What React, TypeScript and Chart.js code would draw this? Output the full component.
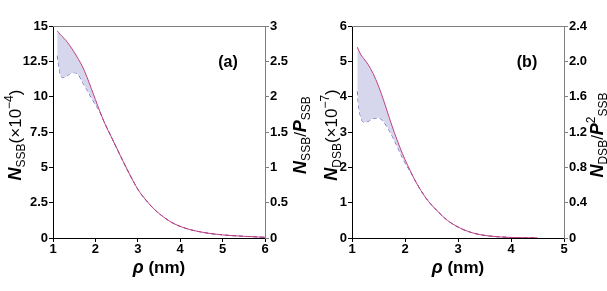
import React, { useEffect, useRef } from 'react';
import { Chart, registerables } from 'chart.js';
Chart.register(...registerables);

// Panel (a)
const xA = [1.1, 1.13, 1.17, 1.22, 1.3, 1.4, 1.5, 1.6, 1.7, 1.8, 1.9, 2.0, 2.1, 2.2, 2.4, 2.6, 2.8, 3.0, 3.2, 3.4, 3.6, 3.8, 4.0, 4.25, 4.5, 4.75, 5.0, 5.5, 6.0];
const upperA = [14.65, 14.55, 14.4, 14.25, 14.0, 13.6, 13.15, 12.65, 12.1, 11.4, 10.6, 9.8, 9.0, 8.25, 7.0, 5.75, 4.55, 3.45, 2.65, 2.0, 1.5, 1.1, 0.82, 0.58, 0.42, 0.3, 0.22, 0.12, 0.05];
const lowerA = [12.9, 12.3, 11.6, 11.35, 11.4, 11.62, 11.7, 11.55, 11.0, 10.5, 9.95, 9.45, 8.95, 8.25, 7.0, 5.75, 4.55, 3.45, 2.65, 2.0, 1.5, 1.1, 0.82, 0.58, 0.42, 0.3, 0.22, 0.12, 0.05];

// Panel (b)
const xB = [1.1, 1.13, 1.17, 1.22, 1.3, 1.4, 1.5, 1.6, 1.7, 1.8, 1.9, 2.0, 2.1, 2.2, 2.4, 2.6, 2.8, 3.0, 3.2, 3.4, 3.6, 3.8, 4.0, 4.25, 4.5];
const upperB = [5.4, 5.3, 5.18, 5.08, 4.92, 4.65, 4.3, 3.88, 3.42, 2.98, 2.58, 2.22, 1.9, 1.6, 1.12, 0.78, 0.5, 0.31, 0.18, 0.1, 0.055, 0.03, 0.015, 0.008, 0.004];
const lowerB = [4.15, 3.7, 3.4, 3.28, 3.3, 3.38, 3.4, 3.28, 3.05, 2.76, 2.44, 2.13, 1.88, 1.6, 1.12, 0.78, 0.5, 0.31, 0.18, 0.1, 0.055, 0.03, 0.015, 0.008, 0.004];

const FONT = '"Liberation Sans", Arial, sans-serif';
const UPPER_COLOR = 'rgb(196,64,128)';
const LOWER_COLOR = 'rgb(64,64,176)';
const FILL_COLOR = 'rgba(214,214,236,1)';
const GRAY = 'rgb(128,128,128)';

type Seg = { t: string; f: string; dy?: number };

function drawRich(ctx: CanvasRenderingContext2D, segs: Seg[], x: number, y: number, rot: number) {
  ctx.save();
  ctx.translate(x, y);
  ctx.rotate(rot);
  let total = 0;
  const ws = segs.map((s) => {
    ctx.font = s.f;
    const w = ctx.measureText(s.t).width;
    total += w;
    return w;
  });
  let cx = -total / 2;
  ctx.textBaseline = 'alphabetic';
  ctx.textAlign = 'left';
  ctx.fillStyle = '#000';
  segs.forEach((s, i) => {
    ctx.font = s.f;
    ctx.fillText(s.t, cx, s.dy || 0);
    cx += ws[i];
  });
  ctx.restore();
}

const big = `bold italic 18px ${FONT}`;
const sub = `12px ${FONT}`;
const reg = `17px ${FONT}`;

type PanelCfg = {
  xs: number[];
  upper: number[];
  lower: number[];
  xMax: number;
  yMax: number;
  yStep: number;
  y2Max: number;
  y2Step: number;
  y2Fmt: (v: number) => string;
  label: string;
  canvasW: number;
  left: number;
  right: number;
  leftTitle: Seg[];
  leftTitleX: number;
  rightTitle: Seg[];
  rightTitleX: number;
};

function makeConfig(p: PanelCfg): any {
  const titlesPlugin = {
    id: 'titles',
    afterDraw(chart: any) {
      const ctx = chart.ctx as CanvasRenderingContext2D;
      const a = chart.chartArea;
      ctx.save();
      ctx.strokeStyle = GRAY;
      ctx.lineWidth = 1;
      ctx.beginPath();
      ctx.moveTo(a.left, a.top + 0.5);
      ctx.lineTo(a.right, a.top + 0.5);
      ctx.stroke();
      ctx.restore();
      const cx = (a.left + a.right) / 2;
      drawRich(ctx, [
        { t: 'ρ', f: `italic bold 18px ${FONT}` },
        { t: ' (nm)', f: `bold 17px ${FONT}` },
      ], cx, 273, 0);
      drawRich(ctx, p.leftTitle, p.leftTitleX, 135, -Math.PI / 2);
      drawRich(ctx, p.rightTitle, p.rightTitleX, 135, -Math.PI / 2);
      ctx.save();
      ctx.font = `bold 16px ${FONT}`;
      ctx.fillStyle = '#000';
      ctx.textAlign = 'center';
      ctx.textBaseline = 'middle';
      ctx.fillText(p.label, a.right - 37, 63);
      ctx.restore();
    },
  };

  const tickFont = { family: FONT, size: 13, weight: 'bold' as const };

  return {
    type: 'line',
    data: {
      datasets: [
        {
          data: p.xs.map((x, i) => ({ x, y: p.upper[i] })),
          borderColor: UPPER_COLOR,
          borderWidth: 1,
          pointRadius: 0,
          fill: '+1',
          backgroundColor: FILL_COLOR,
          cubicInterpolationMode: 'monotone',
        },
        {
          data: p.xs.map((x, i) => ({ x, y: p.lower[i] })),
          borderColor: LOWER_COLOR,
          borderWidth: 1,
          borderDash: [4, 3],
          pointRadius: 0,
          fill: false,
          cubicInterpolationMode: 'monotone',
        },
      ],
    },
    options: {
      animation: false,
      responsive: false,
      layout: { padding: { top: 26, left: 0, right: 0, bottom: 0 } },
      plugins: { legend: { display: false }, tooltip: { enabled: false } },
      scales: {
        x: {
          type: 'linear',
          position: 'bottom',
          min: 1,
          max: p.xMax,
          ticks: { stepSize: 1, color: '#000', font: tickFont, padding: 0, maxRotation: 0 },
          grid: { drawOnChartArea: false, tickLength: 4, color: '#000' },
          border: { color: '#000', width: 1 },
          afterFit: (s: any) => { s.height = 291 - 238; },
        },
        y: {
          position: 'left',
          min: 0,
          max: p.yMax,
          ticks: { stepSize: p.yStep, color: '#000', font: tickFont, padding: 1 },
          grid: { drawOnChartArea: false, tickLength: 4, color: '#000' },
          border: { color: '#000', width: 1 },
          afterFit: (s: any) => { s.width = p.left; },
        },
        y2: {
          position: 'right',
          min: 0,
          max: p.y2Max,
          ticks: { stepSize: p.y2Step, color: '#000', font: tickFont, padding: 1, callback: (v: number) => p.y2Fmt(v) },
          grid: { drawOnChartArea: false, tickLength: 4, color: GRAY },
          border: { color: GRAY, width: 1 },
          afterFit: (s: any) => { s.width = p.canvasW - p.right; },
        },
      },
    },
    plugins: [titlesPlugin],
  };
}

function Panel({ cfg, left }: { cfg: PanelCfg; left: number }) {
  const ref = useRef<HTMLCanvasElement | null>(null);
  useEffect(() => {
    if (!ref.current) return;
    const chart = new Chart(ref.current, makeConfig(cfg));
    return () => chart.destroy();
  }, []);
  return (
    <canvas
      ref={ref}
      width={cfg.canvasW}
      height={291}
      style={{ position: 'absolute', left, top: 0, width: cfg.canvasW, height: 291 }}
    />
  );
}

const cfgA: PanelCfg = {
  xs: xA,
  upper: upperA,
  lower: lowerA,
  xMax: 6,
  yMax: 15,
  yStep: 2.5,
  y2Max: 3,
  y2Step: 0.5,
  y2Fmt: (v) => String(Math.round(v * 10) / 10),
  label: '(a)',
  canvasW: 315,
  left: 53,
  right: 265,
  leftTitle: [
    { t: 'N', f: big },
    { t: 'SSB', f: sub, dy: 4 },
    { t: '(×10', f: reg },
    { t: '−4', f: sub, dy: -8 },
    { t: ')', f: reg },
  ],
  leftTitleX: 21,
  rightTitle: [
    { t: 'N', f: big },
    { t: 'SSB', f: sub, dy: 4 },
    { t: '/', f: reg },
    { t: 'P', f: big },
    { t: 'SSB', f: sub, dy: 4 },
  ],
  rightTitleX: 306,
};

const cfgB: PanelCfg = {
  xs: xB,
  upper: upperB,
  lower: lowerB,
  xMax: 5,
  yMax: 6,
  yStep: 1,
  y2Max: 2.4,
  y2Step: 0.4,
  y2Fmt: (v) => (Math.abs(v) < 1e-9 ? '0' : v.toFixed(1)),
  label: '(b)',
  canvasW: 292,
  left: 352 - 315,
  right: 564 - 315,
  leftTitle: [
    { t: 'N', f: big },
    { t: 'DSB', f: sub, dy: 4 },
    { t: '(×10', f: reg },
    { t: '−7', f: sub, dy: -8 },
    { t: ')', f: reg },
  ],
  leftTitleX: 337 - 315,
  rightTitle: [
    { t: 'N', f: big },
    { t: 'DSB', f: sub, dy: 4 },
    { t: '/', f: reg },
    { t: 'P', f: big },
    { t: '2', f: sub, dy: -8 },
    { t: 'SSB', f: sub, dy: 4 },
  ],
  rightTitleX: 603 - 315,
};

export default function App() {
  return (
    <div style={{ position: 'fixed', left: 0, top: 0, width: 607, height: 291, background: '#fff' }}>
      <Panel cfg={cfgA} left={0} />
      <Panel cfg={cfgB} left={315} />
    </div>
  );
}
